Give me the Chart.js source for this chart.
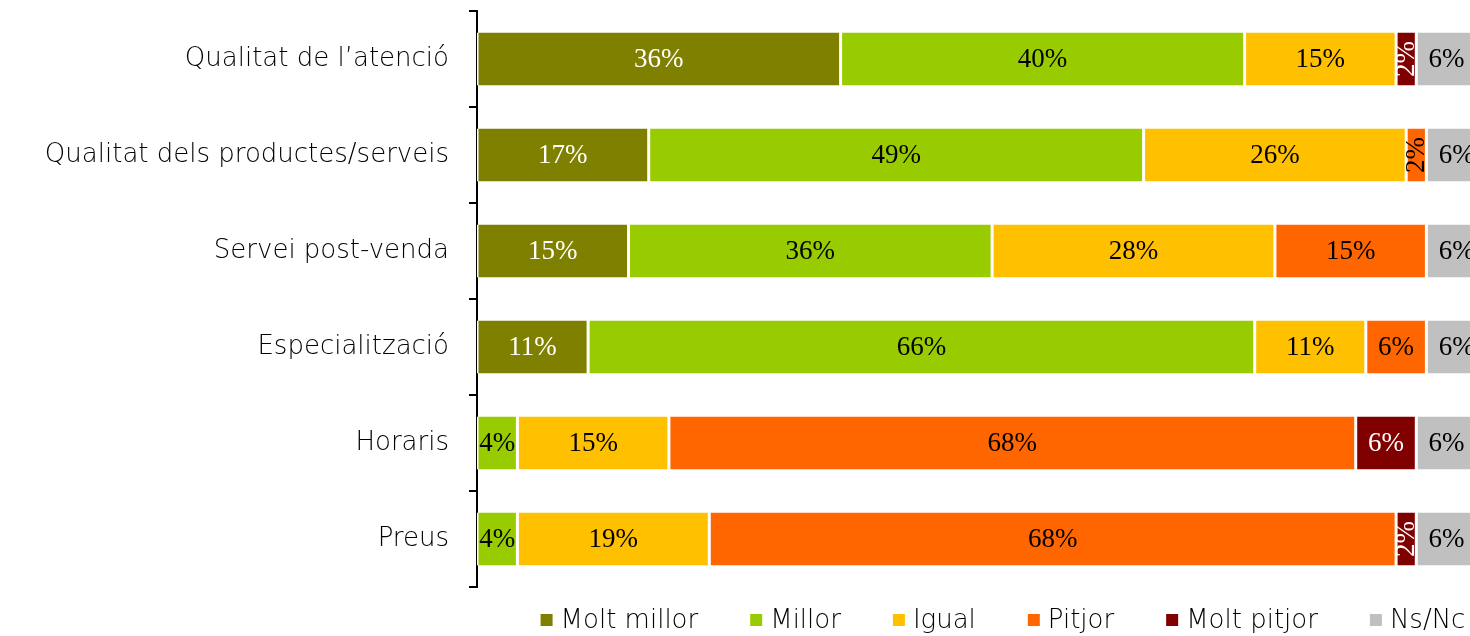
<!DOCTYPE html>
<html>
<head>
<meta charset="utf-8">
<script src="https://cdn.jsdelivr.net/npm/chart.js@4.4.1/dist/chart.umd.min.js"></script>
<style>
  html, body { margin: 0; padding: 0; background: #fff; overflow: hidden; }
  #wrap { width: 1490px; height: 636px; }
</style>
</head>
<body>
<div id="wrap"><canvas id="valoracioChart"></canvas></div>
<script>
const categories = ['Qualitat de l\u2019atenció', 'Qualitat dels productes/serveis', 'Servei post-venda', 'Especialització', 'Horaris', 'Preus'];
const moltMillor = [36, 17, 15, 11, 0, 0];
const millor = [40, 49, 36, 66, 4, 4];
const igual = [15, 26, 28, 11, 15, 19];
const pitjor = [0, 2, 15, 6, 68, 68];
const moltPitjor = [2, 0, 0, 0, 6, 2];
const nsNc = [6, 6, 6, 6, 6, 6];

const seriesNames = ['Molt millor', 'Millor', 'Igual', 'Pitjor', 'Molt pitjor', 'Ns/Nc'];
const seriesValues = [moltMillor, millor, igual, pitjor, moltPitjor, nsNc];
const colors = ['#808000', '#99CC00', '#FFC000', '#FF6600', '#800000', '#C0C0C0'];
const labelColors = ['#fff', '#000', '#000', '#000', '#fff', '#000'];

const sansFont = '"DejaVu Sans", sans-serif';
const sansWeight = 200;
const serifFont = '"Liberation Serif", "Times New Roman", serif';

// percentage text inside each segment, turned upright when the bar is too narrow
const barLabels = {
  id: 'barLabels',
  afterDatasetsDraw(chart) {
    const ctx = chart.ctx;
    ctx.save();
    ctx.font = '27px ' + serifFont;
    ctx.textAlign = 'center';
    ctx.textBaseline = 'middle';
    chart.data.datasets.forEach((ds, i) => {
      const meta = chart.getDatasetMeta(i);
      meta.data.forEach((bar, j) => {
        const v = ds.data[j];
        if (!v) return;
        const text = v + '%';
        const w = Math.abs(bar.x - bar.base);
        const cx = (bar.x + bar.base) / 2;
        ctx.fillStyle = labelColors[i];
        if (ctx.measureText(text).width > w - 2) {
          ctx.save();
          ctx.translate(cx, bar.y);
          ctx.rotate(-Math.PI / 2);
          ctx.fillText(text, 0, 1);
          ctx.restore();
        } else {
          ctx.fillText(text, cx, bar.y + 1);
        }
      });
    });
    ctx.restore();
  }
};

// legend row under the plot: small square + series name
const bottomLegend = {
  id: 'bottomLegend',
  afterDraw(chart) {
    const ctx = chart.ctx;
    const box = 12, textGap = 8, itemGap = 52;
    ctx.save();
    ctx.font = sansWeight + ' 26px ' + sansFont;
    ctx.textBaseline = 'middle';
    const widths = chart.data.datasets.map(ds => box + textGap + ctx.measureText(ds.label).width);
    const total = widths.reduce((a, b) => a + b, 0) + itemGap * (widths.length - 1);
    let x = 1003 - total / 2;
    const y = chart.chartArea.bottom + 33;
    chart.data.datasets.forEach((ds, i) => {
      ctx.fillStyle = ds.backgroundColor;
      ctx.fillRect(x, y - box / 2, box, box);
      ctx.fillStyle = '#000';
      ctx.fillText(ds.label, x + box + textGap, y + 1);
      x += widths[i] + itemGap;
    });
    ctx.restore();
  }
};

const ctx = document.getElementById('valoracioChart');

new Chart(ctx, {
  type: 'bar',
  data: {
    labels: categories,
    datasets: seriesNames.map((name, i) => ({
      label: name,
      data: seriesValues[i],
      backgroundColor: colors[i],
      borderColor: '#fff',
      borderWidth: { left: 1.5, right: 1.5, top: 0, bottom: 0 },
      borderSkipped: false,
      categoryPercentage: 1,
      barPercentage: 0.55
    }))
  },
  options: {
    indexAxis: 'y',
    responsive: true,
    maintainAspectRatio: false,
    animation: false,
    layout: { padding: { top: 11, right: 3, left: 0, bottom: 49 } },
    scales: {
      x: {
        stacked: true,
        min: 0,
        max: 100,
        display: false
      },
      y: {
        stacked: true,
        offset: true,
        afterFit(scale) {
          scale.width = 477;
          scale.paddingTop = 0;
          scale.paddingBottom = 0;
        },
        border: { display: true, color: '#000', width: 2 },
        grid: {
          offset: true,
          drawOnChartArea: false,
          drawTicks: true,
          tickLength: 8,
          color: '#000',
          lineWidth: 2
        },
        ticks: {
          padding: 20,
          color: '#000',
          font: { family: sansFont, size: 26, weight: sansWeight }
        }
      }
    },
    plugins: {
      legend: { display: false },
      tooltip: { enabled: false }
    }
  },
  plugins: [barLabels, bottomLegend]
});
</script>
</body>
</html>
